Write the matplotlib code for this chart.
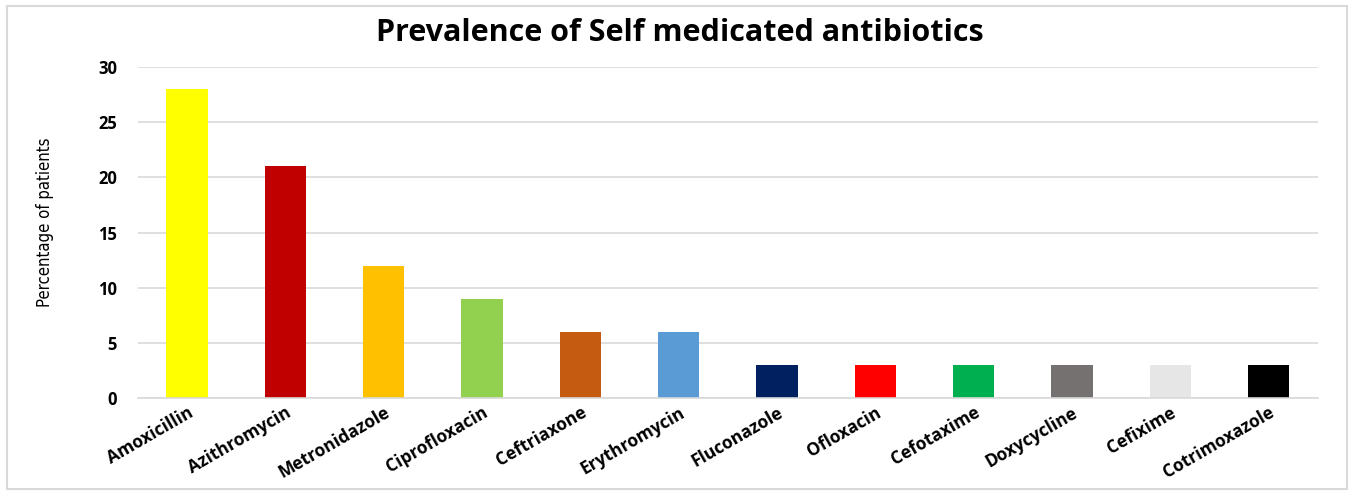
import matplotlib.pyplot as plt
from matplotlib.patches import Rectangle
import numpy as np

drugs = ['Amoxicillin', 'Azithromycin', 'Metronidazole', 'Ciprofloxacin', 'Ceftriaxone',
         'Erythromycin', 'Fluconazole', 'Ofloxacin', 'Cefotaxime', 'Doxycycline',
         'Cefixime', 'Cotrimoxazole']
percent = [28, 21, 12, 9, 6, 6, 3, 3, 3, 3, 3, 3]
bar_colors = ['#FFFF00', '#C00000', '#FFC000', '#92D050', '#C55A11', '#5B9BD5',
              '#002060', '#FF0000', '#00B050', '#767171', '#E7E6E6', '#000000']
yticks = [0, 5, 10, 15, 20, 25, 30]

plt.rcParams['font.family'] = ['Open Sans', 'DejaVu Sans']

fig = plt.figure(figsize=(13.51, 4.95), dpi=100)
ax = fig.add_axes([0.1021, 0.196, 0.8734, 0.6686])

x = np.arange(len(drugs))
ax.bar(x, percent, width=0.42, color=bar_colors, zorder=3)

ax.set_xlim(-0.5, len(drugs) - 0.5)
ax.set_ylim(0, 30)
ax.set_yticks(yticks)
ax.set_yticklabels([str(v) for v in yticks], fontsize=12, fontweight='bold')
ax.set_xticks(x)
ax.set_xticklabels(drugs, rotation=30, ha='right', rotation_mode='anchor',
                   fontsize=12.5, fontweight='bold')
ax.tick_params(axis='y', length=0, pad=15)
ax.tick_params(axis='x', length=0, pad=4)

ax.grid(axis='y', color='#D9D9D9', linewidth=1.2, zorder=0)
for s in ['top', 'right', 'left']:
    ax.spines[s].set_visible(False)
ax.spines['bottom'].set_color('#D9D9D9')
ax.spines['bottom'].set_linewidth(1.2)
ax.spines['bottom'].set_zorder(4)

# narrow font for the y label, like the original
ax.set_ylabel('Percentage of patients', fontsize=12, family='DejaVu Sans',
              fontstretch='condensed')
ax.yaxis.set_label_coords(-0.071, 0.53)

fig.text(0.503, 0.933, 'Prevalence of Self medicated antibiotics', ha='center',
         va='center', fontsize=22, fontweight='bold')

fig.patches.append(Rectangle((0.005, 0.012), 0.992, 0.975, transform=fig.transFigure,
                             fill=False, edgecolor='#D9D9D9', linewidth=1.5))

fig.savefig('out.png', dpi=100)
